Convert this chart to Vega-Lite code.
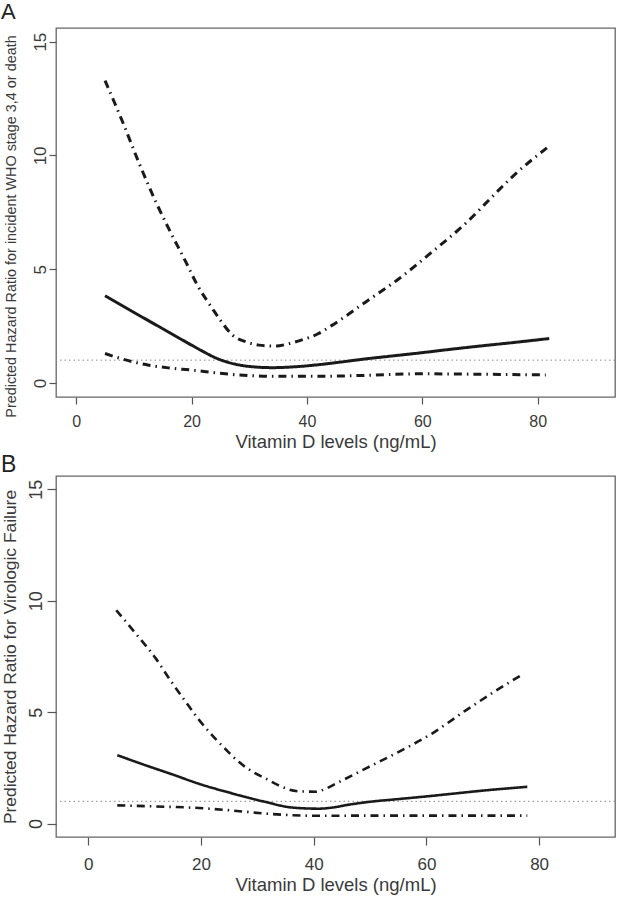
{
  "$schema": "https://vega.github.io/schema/vega-lite/v6.json",
  "background": "white",
  "padding": {"top": 0, "left": 0, "right": 6, "bottom": 4},
  "spacing": 1,
  "config": {
    "font": "Liberation Sans",
    "view": {"stroke": "#666666", "strokeWidth": 1.3},
    "axis": {"domain": false, "grid": false, "tickColor": "#555555", "tickWidth": 1.2, "labelColor": "#3a3a3a", "titleColor": "#3a3a3a", "labelFont": "Liberation Sans", "titleFont": "Liberation Sans", "titleFontWeight": "normal"},
    "title": {"font": "Liberation Sans", "fontWeight": "normal", "color": "#222222", "anchor": "start", "frame": "group", "baseline": "alphabetic"}
  },
  "datasets": {
    "A": [
      {"s": "est", "x": 5, "y": 3.83}, {"s": "est", "x": 10, "y": 3.1}, {"s": "est", "x": 15, "y": 2.38}, {"s": "est", "x": 20, "y": 1.66}, {"s": "est", "x": 22, "y": 1.38}, {"s": "est", "x": 24, "y": 1.12}, {"s": "est", "x": 26, "y": 0.93}, {"s": "est", "x": 28, "y": 0.8}, {"s": "est", "x": 31, "y": 0.7}, {"s": "est", "x": 34, "y": 0.67}, {"s": "est", "x": 38, "y": 0.71}, {"s": "est", "x": 42, "y": 0.8}, {"s": "est", "x": 46, "y": 0.92}, {"s": "est", "x": 50, "y": 1.05}, {"s": "est", "x": 55, "y": 1.19}, {"s": "est", "x": 60, "y": 1.33}, {"s": "est", "x": 65, "y": 1.48}, {"s": "est", "x": 70, "y": 1.62}, {"s": "est", "x": 76, "y": 1.78}, {"s": "est", "x": 82, "y": 1.95},
      {"s": "upper", "x": 5, "y": 13.29}, {"s": "upper", "x": 8, "y": 11.5}, {"s": "upper", "x": 11, "y": 9.6}, {"s": "upper", "x": 13.8, "y": 7.96}, {"s": "upper", "x": 16, "y": 6.8}, {"s": "upper", "x": 19, "y": 5.32}, {"s": "upper", "x": 21, "y": 4.3}, {"s": "upper", "x": 23.6, "y": 3.27}, {"s": "upper", "x": 25, "y": 2.75}, {"s": "upper", "x": 27.1, "y": 2.1}, {"s": "upper", "x": 29.5, "y": 1.8}, {"s": "upper", "x": 31.7, "y": 1.66}, {"s": "upper", "x": 34.6, "y": 1.62}, {"s": "upper", "x": 36.5, "y": 1.7}, {"s": "upper", "x": 38.6, "y": 1.85}, {"s": "upper", "x": 42, "y": 2.17}, {"s": "upper", "x": 44.4, "y": 2.54}, {"s": "upper", "x": 50.2, "y": 3.56}, {"s": "upper", "x": 56, "y": 4.59}, {"s": "upper", "x": 61.7, "y": 5.76}, {"s": "upper", "x": 67.5, "y": 7.01}, {"s": "upper", "x": 72.1, "y": 8.18}, {"s": "upper", "x": 75.6, "y": 9.06}, {"s": "upper", "x": 81.7, "y": 10.35},
      {"s": "lower", "x": 5, "y": 1.29}, {"s": "lower", "x": 8, "y": 1.05}, {"s": "lower", "x": 12.6, "y": 0.78}, {"s": "lower", "x": 16, "y": 0.66}, {"s": "lower", "x": 20.1, "y": 0.56}, {"s": "lower", "x": 24, "y": 0.45}, {"s": "lower", "x": 27.1, "y": 0.37}, {"s": "lower", "x": 30, "y": 0.32}, {"s": "lower", "x": 34, "y": 0.29}, {"s": "lower", "x": 42, "y": 0.29}, {"s": "lower", "x": 50, "y": 0.33}, {"s": "lower", "x": 60, "y": 0.4}, {"s": "lower", "x": 70, "y": 0.38}, {"s": "lower", "x": 81.4, "y": 0.35}
    ],
    "B": [
      {"s": "est", "x": 5.15, "y": 3.07}, {"s": "est", "x": 10, "y": 2.63}, {"s": "est", "x": 15, "y": 2.2}, {"s": "est", "x": 19.6, "y": 1.79}, {"s": "est", "x": 25.6, "y": 1.35}, {"s": "est", "x": 31.5, "y": 0.97}, {"s": "est", "x": 36.2, "y": 0.72}, {"s": "est", "x": 40.9, "y": 0.67}, {"s": "est", "x": 43.3, "y": 0.72}, {"s": "est", "x": 46, "y": 0.84}, {"s": "est", "x": 50, "y": 0.98}, {"s": "est", "x": 55, "y": 1.1}, {"s": "est", "x": 60, "y": 1.22}, {"s": "est", "x": 65, "y": 1.35}, {"s": "est", "x": 70, "y": 1.48}, {"s": "est", "x": 77.9, "y": 1.65},
      {"s": "upper", "x": 4.97, "y": 9.57}, {"s": "upper", "x": 8.5, "y": 8.5}, {"s": "upper", "x": 12, "y": 7.4}, {"s": "upper", "x": 14.5, "y": 6.45}, {"s": "upper", "x": 17.3, "y": 5.46}, {"s": "upper", "x": 19.5, "y": 4.7}, {"s": "upper", "x": 22, "y": 3.96}, {"s": "upper", "x": 24.5, "y": 3.3}, {"s": "upper", "x": 26.7, "y": 2.77}, {"s": "upper", "x": 29, "y": 2.35}, {"s": "upper", "x": 31.5, "y": 2.02}, {"s": "upper", "x": 33.5, "y": 1.75}, {"s": "upper", "x": 35.6, "y": 1.53}, {"s": "upper", "x": 38, "y": 1.44}, {"s": "upper", "x": 40.5, "y": 1.43}, {"s": "upper", "x": 42, "y": 1.55}, {"s": "upper", "x": 44, "y": 1.8}, {"s": "upper", "x": 49.2, "y": 2.47}, {"s": "upper", "x": 55.1, "y": 3.22}, {"s": "upper", "x": 61, "y": 4.04}, {"s": "upper", "x": 67, "y": 5.08}, {"s": "upper", "x": 72.9, "y": 6.05}, {"s": "upper", "x": 77.3, "y": 6.73},
      {"s": "lower", "x": 5.15, "y": 0.82}, {"s": "lower", "x": 12, "y": 0.77}, {"s": "lower", "x": 19.6, "y": 0.7}, {"s": "lower", "x": 25, "y": 0.6}, {"s": "lower", "x": 31.5, "y": 0.45}, {"s": "lower", "x": 36, "y": 0.38}, {"s": "lower", "x": 40.9, "y": 0.35}, {"s": "lower", "x": 50, "y": 0.36}, {"s": "lower", "x": 60, "y": 0.36}, {"s": "lower", "x": 77.9, "y": 0.36}
    ]
  },
  "vconcat": [
    {
      "width": 559,
      "height": 369,
      "title": {"text": "A", "fontSize": 22, "offset": 4, "dx": -55},
      "layer": [
        {
          "data": {"values": [{"ref": 1}]},
          "mark": {"type": "rule", "color": "#8a8a8a", "strokeWidth": 1, "strokeDash": [1.5, 3]},
          "encoding": {"y": {"field": "ref", "type": "quantitative"}}
        },
        {
          "data": {"name": "A"},
          "mark": {"type": "line", "interpolate": "monotone", "color": "#1a1a1a", "strokeWidth": 3},
          "encoding": {
            "x": {"field": "x", "type": "quantitative", "scale": {"domain": [-3.5, 93.4], "nice": false, "zero": false},
              "axis": {"values": [0, 20, 40, 60, 80], "title": "Vitamin D levels (ng/mL)", "tickSize": 7, "labelPadding": 22, "labelBaseline": "alphabetic", "labelFontSize": 16, "titleFontSize": 18.5, "titleBaseline": "alphabetic", "titleY": 50}},
            "y": {"field": "y", "type": "quantitative", "scale": {"domain": [-0.62, 15.6], "nice": false, "zero": false},
              "axis": {"values": [0, 5, 10, 15], "title": "Predicted Hazard Ratio for incident WHO stage 3,4 or death", "tickSize": 7, "labelPadding": 4, "labelAngle": -90, "labelAlign": "center", "labelBaseline": "alphabetic", "labelFontSize": 17, "titleFontSize": 14.4, "titleBaseline": "alphabetic", "titleX": -41, "titleY": 198}},
            "detail": {"field": "s"},
            "strokeDash": {"field": "s", "type": "nominal", "scale": {"domain": ["est", "lower", "upper"], "range": [[1, 0], [8, 5, 1.5, 5], [8, 5, 1.5, 5]]}, "legend": null}
          }
        }
      ]
    },
    {
      "width": 559,
      "height": 361,
      "title": {"text": "B", "fontSize": 23, "offset": -1, "dx": -55},
      "layer": [
        {
          "data": {"values": [{"ref": 1}]},
          "mark": {"type": "rule", "color": "#8a8a8a", "strokeWidth": 1, "strokeDash": [1.5, 3]},
          "encoding": {"y": {"field": "ref", "type": "quantitative"}}
        },
        {
          "data": {"name": "B"},
          "mark": {"type": "line", "interpolate": "monotone", "color": "#1a1a1a", "strokeWidth": 2.6},
          "encoding": {
            "x": {"field": "x", "type": "quantitative", "scale": {"domain": [-5.73, 93.47], "nice": false, "zero": false},
              "axis": {"values": [0, 20, 40, 60, 80], "title": "Vitamin D levels (ng/mL)", "tickSize": 8, "labelPadding": 24, "labelBaseline": "alphabetic", "labelFontSize": 17, "titleFontSize": 18.5, "titleBaseline": "alphabetic", "titleY": 53}},
            "y": {"field": "y", "type": "quantitative", "scale": {"domain": [-0.6, 15.59], "nice": false, "zero": false},
              "axis": {"values": [0, 5, 10, 15], "title": "Predicted Hazard Ratio for Virologic Failure", "tickSize": 9, "labelPadding": 6, "labelAngle": -90, "labelAlign": "center", "labelBaseline": "alphabetic", "labelFontSize": 18, "titleFontSize": 17.4, "titleBaseline": "alphabetic", "titleX": -41}},
            "detail": {"field": "s"},
            "strokeDash": {"field": "s", "type": "nominal", "scale": {"domain": ["est", "lower", "upper"], "range": [[1, 0], [8, 5, 1.5, 5], [8, 5, 1.5, 5]]}, "legend": null}
          }
        }
      ]
    }
  ]
}
